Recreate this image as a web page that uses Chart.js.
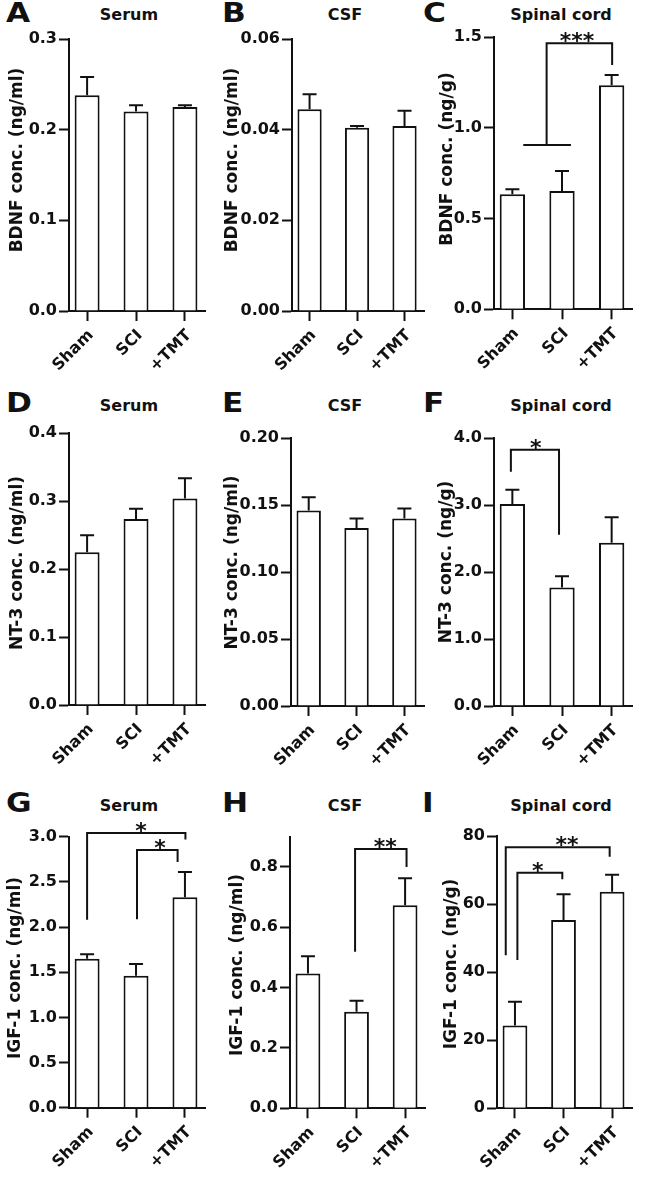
<!DOCTYPE html>
<html>
<head>
<meta charset="utf-8">
<script src="https://cdn.jsdelivr.net/npm/chart.js@4/dist/chart.umd.min.js"></script>
<style>
  html, body { margin: 0; padding: 0; background: #fff; }
  #fig { position: relative; width: 648px; height: 1199px; background: #fff; overflow: hidden; }
  .letter { position: absolute; font: bold 26px/26px "DejaVu Sans"; color: #111; transform: scaleX(1.2); transform-origin: left top; white-space: nowrap; }
  .ptitle { position: absolute; font: bold 16px/16px "DejaVu Sans"; color: #111; transform: translateX(-50%); white-space: nowrap; }
</style>
</head>
<body>
<div id="fig"></div>
<script>
// ---------- data ----------
const groups = ['Sham', 'SCI', '+TMT'];
const columnTitles = ['Serum', 'CSF', 'Spinal cord'];
const panelLetters = ['A', 'B', 'C', 'D', 'E', 'F', 'G', 'H', 'I'];

const bdnfSerum = [0.238, 0.220, 0.225];
const bdnfSerumErr = [0.020, 0.007, 0.002];
const bdnfCsf = [0.0445, 0.0404, 0.0408];
const bdnfCsfErr = [0.0033, 0.0004, 0.0034];
const bdnfCord = [0.634, 0.652, 1.235];
const bdnfCordErr = [0.028, 0.111, 0.057];

const nt3Serum = [0.225, 0.274, 0.304];
const nt3SerumErr = [0.025, 0.015, 0.030];
const nt3Csf = [0.146, 0.133, 0.140];
const nt3CsfErr = [0.010, 0.007, 0.0075];
const nt3Cord = [3.02, 1.77, 2.44];
const nt3CordErr = [0.21, 0.17, 0.38];

const igfSerum = [1.65, 1.46, 2.33];
const igfSerumErr = [0.05, 0.13, 0.28];
const igfCsf = [0.447, 0.320, 0.673];
const igfCsfErr = [0.057, 0.036, 0.089];
const igfCord = [24.3, 55.3, 63.6];
const igfCordErr = [7.0, 7.6, 5.0];

// tick values and labels
const ticksA = [0, 0.1, 0.2, 0.3];           const labelsA = ['0.0', '0.1', '0.2', '0.3'];
const ticksB = [0, 0.02, 0.04, 0.06];        const labelsB = ['0.00', '0.02', '0.04', '0.06'];
const ticksC = [0, 0.5, 1.0, 1.5];           const labelsC = ['0.0', '0.5', '1.0', '1.5'];
const ticksD = [0, 0.1, 0.2, 0.3, 0.4];      const labelsD = ['0.0', '0.1', '0.2', '0.3', '0.4'];
const ticksE = [0, 0.05, 0.10, 0.15, 0.20];  const labelsE = ['0.00', '0.05', '0.10', '0.15', '0.20'];
const ticksF = [0, 1, 2, 3, 4];              const labelsF = ['0.0', '1.0', '2.0', '3.0', '4.0'];
const ticksG = [0, 0.5, 1.0, 1.5, 2.0, 2.5, 3.0]; const labelsG = ['0.0', '0.5', '1.0', '1.5', '2.0', '2.5', '3.0'];
const ticksH = [0, 0.2, 0.4, 0.6, 0.8];      const labelsH = ['0.0', '0.2', '0.4', '0.6', '0.8'];
const ticksI = [0, 20, 40, 60, 80];          const labelsI = ['0', '20', '40', '60', '80'];

// significance brackets (x in group index units, y in data units)
const bracketsC = [
  { path: [[0.22, 0.906], [1.18, 0.906]] },
  { path: [[0.69, 0.906], [0.69, 1.467], [2.01, 1.467], [2.01, 1.347]], label: '***', at: [1.30, 1.467] }
];
const bracketsF = [
  { path: [[-0.03, 3.50], [-0.03, 3.83], [0.94, 3.83], [0.94, 2.56]], label: '*', at: [0.47, 3.83] }
];
const bracketsG = [
  { path: [[0.0, 2.08], [0.0, 3.04], [2.01, 3.04], [2.01, 2.97]], label: '*', at: [1.10, 3.04] },
  { path: [[1.02, 2.086], [1.02, 2.853], [1.85, 2.853], [1.85, 2.72]], label: '*', at: [1.49, 2.853] }
];
const bracketsH = [
  { path: [[0.97, 0.519], [0.97, 0.859], [2.03, 0.859], [2.03, 0.80]], label: '**', at: [1.59, 0.859] }
];
const bracketsI = [
  { path: [[-0.19, 45.0], [-0.19, 76.7], [1.95, 76.7], [1.95, 73.9]], label: '**', at: [1.07, 76.7] },
  { path: [[0.05, 43.6], [0.05, 69.2], [0.975, 69.2], [0.975, 67.3]], label: '*', at: [0.47, 69.2] }
];

// ---------- layout ----------
const rowTop = [0, 392, 792];
const rowH = [392, 400, 407];
const letterPos = [[6, 0], [222, 0], [423, 0], [6, 390], [222, 390], [423, 390], [6, 790], [222, 790], [422, 790]];
const titleTop = [6.5, 398, 798];

const panels = [
  { col: 0, row: 0, area: [69, 39, 205, 311],   values: bdnfSerum, errors: bdnfSerumErr, yMax: 0.3,  ticks: ticksA, labels: labelsA, yTitle: 'BDNF conc. (ng/ml)', yTitlePos: [17.5, 160], brackets: [] },
  { col: 1, row: 0, area: [76, 39, 208, 311],   values: bdnfCsf,   errors: bdnfCsfErr,   yMax: 0.06, ticks: ticksB, labels: labelsB, yTitle: 'BDNF conc. (ng/ml)', yTitlePos: [16.5, 160], brackets: [] },
  { col: 2, row: 0, area: [62, 37.3, 200, 309.3], values: bdnfCord, errors: bdnfCordErr, yMax: 1.5,  ticks: ticksC, labels: labelsC, yTitle: 'BDNF conc. (ng/g)',  yTitlePos: [16, 159],   brackets: bracketsC },
  { col: 0, row: 1, area: [69, 41.3, 205, 313], values: nt3Serum,  errors: nt3SerumErr,  yMax: 0.4,  ticks: ticksD, labels: labelsD, yTitle: 'NT-3 conc. (ng/ml)', yTitlePos: [17.5, 171], brackets: [] },
  { col: 1, row: 1, area: [75, 46.3, 208, 314], values: nt3Csf,    errors: nt3CsfErr,    yMax: 0.2,  ticks: ticksE, labels: labelsE, yTitle: 'NT-3 conc. (ng/ml)', yTitlePos: [16.7, 170.5], brackets: [] },
  { col: 2, row: 1, area: [62, 46.3, 200, 314], values: nt3Cord,   errors: nt3CordErr,   yMax: 4,    ticks: ticksF, labels: labelsF, yTitle: 'NT-3 conc. (ng/g)',  yTitlePos: [15, 170],   brackets: bracketsF },
  { col: 0, row: 2, area: [69, 44.7, 205, 315.7], values: igfSerum, errors: igfSerumErr, yMax: 3,    ticks: ticksG, labels: labelsG, yTitle: 'IGF-1 conc. (ng/ml)', yTitlePos: [16, 176],  brackets: bracketsG },
  { col: 1, row: 2, area: [74, 44.7, 209, 316.3], values: igfCsf,   errors: igfCsfErr,   yMax: 0.9,  ticks: ticksH, labels: labelsH, yTitle: 'IGF-1 conc. (ng/ml)', yTitlePos: [21.7, 173], brackets: bracketsH },
  { col: 2, row: 2, area: [65, 44, 200, 316.3],   values: igfCord,  errors: igfCordErr,  yMax: 80,   ticks: ticksI, labels: labelsI, yTitle: 'IGF-1 conc. (ng/g)',  yTitlePos: [20, 172],   brackets: bracketsI }
];

const INK = '#111';
Chart.defaults.font.family = '"DejaVu Sans"';
Chart.defaults.color = INK;

const fig = document.getElementById('fig');

// letters and column titles
panels.forEach((p, k) => {
  const d = document.createElement('div');
  d.className = 'letter';
  d.textContent = panelLetters[k];
  d.style.left = letterPos[k][0] + 'px';
  d.style.top = letterPos[k][1] + 'px';
  fig.appendChild(d);
  const t = document.createElement('div');
  t.className = 'ptitle';
  t.textContent = columnTitles[p.col];
  t.style.left = (p.col * 216 + 129) + 'px';
  t.style.top = titleTop[p.row] + 'px';
  fig.appendChild(t);
});

function makeExtras(p) {
  return {
    id: 'panelExtras',
    afterDatasetsDraw(chart) {
      const ctx = chart.ctx;
      const xs = chart.scales.x, ys = chart.scales.y;
      ctx.save();
      ctx.strokeStyle = INK;
      ctx.fillStyle = INK;
      ctx.lineWidth = 2;
      // error bars (upper only)
      const meta = chart.getDatasetMeta(0);
      meta.data.forEach((bar, i) => {
        const x = bar.x;
        const y0 = ys.getPixelForValue(p.values[i]);
        const y1 = ys.getPixelForValue(p.values[i] + p.errors[i]);
        ctx.beginPath();
        ctx.moveTo(x, y0); ctx.lineTo(x, y1);
        ctx.moveTo(x - 7, y1); ctx.lineTo(x + 7, y1);
        ctx.stroke();
      });
      // significance brackets
      p.brackets.forEach(b => {
        ctx.beginPath();
        b.path.forEach(([xv, yv], k) => {
          const px = xs.getPixelForValue(xv), py = ys.getPixelForValue(yv);
          if (k === 0) ctx.moveTo(px, py); else ctx.lineTo(px, py);
        });
        ctx.stroke();
        if (b.label) {
          ctx.font = 'bold 22px "DejaVu Sans"';
          ctx.textAlign = 'center';
          ctx.textBaseline = 'alphabetic';
          ctx.fillText(b.label, xs.getPixelForValue(b.at[0]), ys.getPixelForValue(b.at[1]) + 5);
        }
      });
      // y axis title
      ctx.translate(p.yTitlePos[0], p.yTitlePos[1]);
      ctx.rotate(-Math.PI / 2);
      ctx.font = 'bold 17px "DejaVu Sans"';
      ctx.textAlign = 'center';
      ctx.textBaseline = 'middle';
      ctx.fillText(p.yTitle, 0, 0);
      ctx.restore();
    }
  };
}

panels.forEach(p => {
  const W = 216, H = rowH[p.row];
  const [L, T, R, B] = p.area;
  const c = document.createElement('canvas');
  c.width = W; c.height = H;
  c.style.cssText = `position:absolute;left:${p.col * 216}px;top:${rowTop[p.row]}px;width:${W}px;height:${H}px;`;
  fig.appendChild(c);

  new Chart(c, {
    type: 'bar',
    data: {
      datasets: [{
        data: p.values.map((v, i) => ({ x: i, y: v })),
        backgroundColor: '#fff',
        borderColor: INK,
        borderWidth: 2,
        barPercentage: 0.51,
        categoryPercentage: 1.0
      }]
    },
    options: {
      responsive: false,
      animation: false,
      events: [],
      devicePixelRatio: 1,
      layout: { padding: { left: 0, top: T, right: W - R, bottom: 0 } },
      plugins: { legend: { display: false }, tooltip: { enabled: false }, title: { display: false } },
      scales: {
        x: {
          type: 'linear',
          min: -0.37,
          max: 2.41,
          offset: false,
          z: 1,
          grid: { display: true, offset: false, drawOnChartArea: false, drawTicks: true, tickLength: 10, tickWidth: 2, tickColor: INK },
          border: { display: true, color: INK, width: 2 },
          afterBuildTicks: s => { s.ticks = groups.map((g, i) => ({ value: i })); },
          afterFit: s => { s.height = H - B; },
          ticks: {
            autoSkip: false,
            minRotation: 45,
            maxRotation: 45,
            padding: 5,
            labelOffset: 4,
            color: INK,
            font: { size: 16, weight: 'bold', family: '"DejaVu Sans"' },
            callback: (v) => groups[Math.round(v)]
          }
        },
        y: {
          type: 'linear',
          min: 0,
          max: p.yMax,
          z: 1,
          grid: { display: true, drawOnChartArea: false, drawTicks: true, tickLength: 10, tickWidth: 2, tickColor: INK },
          border: { display: true, color: INK, width: 2 },
          afterBuildTicks: s => { s.ticks = p.ticks.map(v => ({ value: v })); },
          afterFit: s => { s.width = L; },
          ticks: {
            autoSkip: false,
            padding: 2,
            color: INK,
            font: { size: 16, weight: 'bold', family: '"DejaVu Sans"' },
            callback: (v, idx) => p.labels[idx]
          }
        }
      }
    },
    plugins: [makeExtras(p)]
  });
});
</script>
</body>
</html>
